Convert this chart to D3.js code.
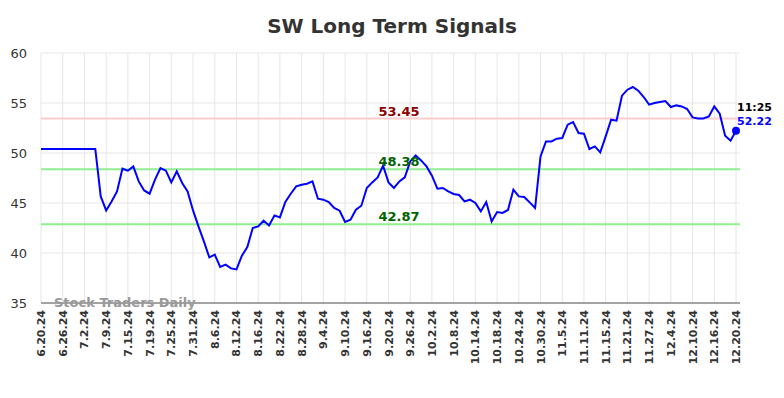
<!DOCTYPE html>
<html lang="en">
<head>
    <meta charset="UTF-8">
    <title>SW Long Term Signals</title>
    <script src="https://d3js.org/d3.v7.min.js"></script>
    <style>
        body { margin: 0; background: #fff; }
        text { font-family: "DejaVu Sans", sans-serif; }
    </style>
</head>
<body>
    <div id="chart"></div>

    <script>
        // tick labels, one every 4 trading days
        var tickLabels = ["6.20.24", "6.26.24", "7.2.24", "7.9.24", "7.15.24", "7.19.24", "7.25.24", "7.31.24",
            "8.6.24", "8.12.24", "8.16.24", "8.22.24", "8.28.24", "9.4.24", "9.10.24", "9.16.24", "9.20.24",
            "9.26.24", "10.2.24", "10.8.24", "10.14.24", "10.18.24", "10.24.24", "10.30.24", "11.5.24",
            "11.11.24", "11.15.24", "11.21.24", "11.27.24", "12.4.24", "12.10.24", "12.16.24", "12.20.24"];

        // daily closes
        var prices = [50.4, 50.4, 50.4, 50.4, 50.4, 50.4, 50.4, 50.4, 50.4, 50.4, 50.4,
            45.66, 44.26, 45.16, 46.16, 48.43, 48.23, 48.66, 47.16, 46.26, 45.93,
            47.33, 48.5, 48.23, 47.06, 48.16, 47.0, 46.16, 44.26, 42.66, 41.16,
            39.56, 39.83, 38.6, 38.83, 38.46, 38.36, 39.73, 40.6, 42.5, 42.66,
            43.23, 42.76, 43.76, 43.56, 45.1, 45.93, 46.66, 46.83, 46.93, 47.16,
            45.43, 45.33, 45.1, 44.5, 44.23, 43.1, 43.33, 44.33, 44.73, 46.5,
            47.06, 47.56, 48.73, 47.06, 46.5, 47.16, 47.56, 49.16, 49.76, 49.26,
            48.66, 47.73, 46.43, 46.5, 46.16, 45.9, 45.8, 45.16, 45.33, 45.0,
            44.16, 45.1, 43.16, 44.1, 44.0, 44.3, 46.33, 45.66, 45.6, 45.06,
            44.5, 49.66, 51.16, 51.16, 51.43, 51.5, 52.83, 53.1, 52.0, 51.93,
            50.4, 50.66, 50.06, 51.66, 53.33, 53.23, 55.73, 56.33, 56.6, 56.23,
            55.6, 54.83, 55.0, 55.1, 55.2, 54.6, 54.76, 54.66, 54.4, 53.56,
            53.46, 53.46, 53.66, 54.66, 53.93, 51.73, 51.23, 52.22];

        var yTicks = [35, 40, 45, 50, 55, 60];
        var resistance = [53.45];
        var support = [48.38, 42.87];
        var lastTime = "11:25";

        var width = 784, height = 398;
        var plotLeft = 41, plotRight = 740, plotTop = 53, plotBottom = 303;

        var svg = d3.select("#chart").append("svg")
            .attr("width", width)
            .attr("height", height);

        var x = d3.scaleLinear().domain([0, prices.length - 1]).range([plotLeft, 736]);
        var y = d3.scaleLinear().domain([35, 60]).range([plotBottom, plotTop]);

        var tickIdx = tickLabels.map(function(d, i) { return i * 4; });

        // grid
        svg.append("g").selectAll("line")
            .data(tickIdx)
            .enter().append("line")
            .attr("x1", function(d) { return x(d); })
            .attr("x2", function(d) { return x(d); })
            .attr("y1", plotTop).attr("y2", plotBottom)
            .attr("stroke", "#e6e6e6").attr("stroke-width", 1);

        svg.append("g").selectAll("line")
            .data(yTicks)
            .enter().append("line")
            .attr("x1", plotLeft).attr("x2", plotRight)
            .attr("y1", function(d) { return y(d); })
            .attr("y2", function(d) { return y(d); })
            .attr("stroke", "#e6e6e6").attr("stroke-width", 1);

        // y labels
        svg.append("g").selectAll("text")
            .data(yTicks)
            .enter().append("text")
            .attr("x", 27)
            .attr("y", function(d) { return y(d) + 5; })
            .attr("text-anchor", "end")
            .attr("font-size", 13)
            .attr("fill", "#333")
            .text(function(d) { return d; });

        // x labels
        svg.append("g").selectAll("text")
            .data(tickIdx)
            .enter().append("text")
            .attr("transform", function(d) { return "translate(" + (x(d) + 4) + ",310) rotate(-90)"; })
            .attr("text-anchor", "end")
            .attr("font-size", 11)
            .attr("font-weight", "bold")
            .attr("fill", "#333")
            .text(function(d, i) { return tickLabels[i]; });

        // bottom axis line
        svg.append("line")
            .attr("x1", plotLeft).attr("x2", plotRight)
            .attr("y1", plotBottom).attr("y2", plotBottom)
            .attr("stroke", "#555").attr("stroke-width", 1);

        // signal lines
        svg.append("g").selectAll("line")
            .data(resistance)
            .enter().append("line")
            .attr("x1", plotLeft).attr("x2", plotRight)
            .attr("y1", function(d) { return y(d); })
            .attr("y2", function(d) { return y(d); })
            .attr("stroke", "#ffcccc").attr("stroke-width", 2);

        svg.append("g").selectAll("line")
            .data(support)
            .enter().append("line")
            .attr("x1", plotLeft).attr("x2", plotRight)
            .attr("y1", function(d) { return y(d); })
            .attr("y2", function(d) { return y(d); })
            .attr("stroke", "#90ee90").attr("stroke-width", 2);

        // watermark
        svg.append("text")
            .attr("x", 54).attr("y", 307)
            .attr("font-size", 13).attr("font-weight", "bold")
            .attr("fill", "#999")
            .text("Stock Traders Daily");

        // price line
        var line = d3.line()
            .x(function(d, i) { return x(i); })
            .y(function(d) { return y(d); });

        svg.append("path")
            .datum(prices)
            .attr("fill", "none")
            .attr("stroke", "#0000ff")
            .attr("stroke-width", 2)
            .attr("d", line);

        // signal labels
        svg.append("g").selectAll("text")
            .data(resistance)
            .enter().append("text")
            .attr("x", 399).attr("y", function(d) { return y(d) - 3; })
            .attr("text-anchor", "middle")
            .attr("font-size", 13).attr("font-weight", "bold")
            .attr("fill", "#8b0000")
            .text(function(d) { return d.toFixed(2); });

        svg.append("g").selectAll("text")
            .data(support)
            .enter().append("text")
            .attr("x", 399).attr("y", function(d) { return y(d) - 3; })
            .attr("text-anchor", "middle")
            .attr("font-size", 13).attr("font-weight", "bold")
            .attr("fill", "#006400")
            .text(function(d) { return d.toFixed(2); });

        // last point
        var last = prices.length - 1;
        svg.append("circle")
            .attr("cx", x(last)).attr("cy", y(prices[last]))
            .attr("r", 4).attr("fill", "#0000ff");

        svg.append("text")
            .attr("x", x(last) + 1).attr("y", 111)
            .attr("font-size", 11).attr("font-weight", "bold")
            .attr("fill", "#000")
            .text(lastTime);

        svg.append("text")
            .attr("x", x(last) + 1).attr("y", 125)
            .attr("font-size", 11).attr("font-weight", "bold")
            .attr("fill", "#0000ff")
            .text(prices[last].toFixed(2));

        // title
        svg.append("text")
            .attr("x", 392).attr("y", 33)
            .attr("text-anchor", "middle")
            .attr("font-size", 20).attr("font-weight", "bold")
            .attr("fill", "#333")
            .text("SW Long Term Signals");
    </script>
</body>
</html>
